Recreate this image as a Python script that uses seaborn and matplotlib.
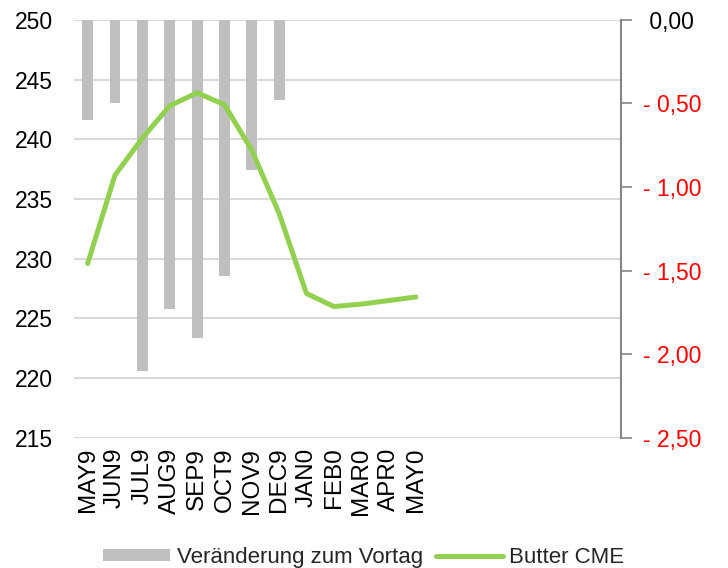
import numpy as np
import pandas as pd
import matplotlib
matplotlib.use("Agg")
import matplotlib.pyplot as plt
import seaborn as sns

# --- data -------------------------------------------------------------------
MONTHS = ["MAY9", "JUN9", "JUL9", "AUG9", "SEP9", "OCT9", "NOV9",
          "DEC9", "JAN0", "FEB0", "MAR0", "APR0", "MAY0"]
N_SLOTS = 20                      # axis keeps room for 7 empty months

CHANGE_MONTHS = MONTHS[:8]        # bars stop at DEC9
CHANGE = [-0.60, -0.50, -2.10, -1.73, -1.90, -1.53, -0.90, -0.48]

BUTTER = [229.6, 237.0, 240.1, 242.8, 243.9, 242.9, 239.1,
          233.8, 227.1, 226.0, 226.2, 226.5, 226.8]

LEFT_TICKS = [215, 220, 225, 230, 235, 240, 245, 250]
RIGHT_TICKS = [-2.5, -2.0, -1.5, -1.0, -0.5, 0.0]

BAR_LABEL = "Veränderung zum Vortag"
LINE_LABEL = "Butter CME"

# --- style -------------------------------------------------------------------
sns.set_theme(style="white")
plt.rcParams["font.family"] = ["Liberation Sans", "DejaVu Sans"]
plt.rcParams["font.size"] = 16

GRAY_BAR = "#bfbfbf"
GRID = "#d9d9d9"
GREEN = "#92d050"

fig = plt.figure(figsize=(7.28, 5.68), dpi=100)
ax = fig.add_subplot(111)          # left scale, grid, x labels
ax_bar = ax.twinx()                # right scale, bars
ax_line = ax.twinx()               # left scale again, line on top
fig.subplots_adjust(left=0.1016, right=0.853, bottom=0.229, top=0.965)

slots = MONTHS + [f"_{i}" for i in range(N_SLOTS - len(MONTHS))]

# bars (right axis)
bar_df = pd.DataFrame({"month": CHANGE_MONTHS, "change": CHANGE})
sns.barplot(data=bar_df, x="month", y="change", order=slots, color=GRAY_BAR,
            saturation=1, width=0.4, linewidth=0, ax=ax_bar)

# line (left scale)
line_df = pd.DataFrame({"pos": np.arange(len(MONTHS)), "butter": BUTTER})
sns.lineplot(data=line_df, x="pos", y="butter", sort=False, color=GREEN,
             linewidth=3.6, ax=ax_line, legend=False)
ax_line.lines[0].set_solid_capstyle("round")

# x axis
for a in (ax, ax_bar, ax_line):
    a.set_xlim(-0.5, N_SLOTS - 0.5)
    a.set_xlabel("")
ax.set_xticks(range(N_SLOTS))
ax.set_xticklabels(MONTHS + [""] * (N_SLOTS - len(MONTHS)), rotation=90)
ax.tick_params(axis="x", length=0, pad=7, labelsize=17.5, colors="black")

# left axis with grid
ax.set_ylim(LEFT_TICKS[0], LEFT_TICKS[-1])
ax.set_yticks(LEFT_TICKS)
ax.tick_params(axis="y", length=0, pad=15, labelsize=16.5, colors="black")
ax.yaxis.grid(True, color=GRID, linewidth=1.5)
ax.set_axisbelow(True)
for s in ax.spines.values():
    s.set_visible(False)

ax_line.set_ylim(LEFT_TICKS[0], LEFT_TICKS[-1])
ax_line.set_yticks([])
ax_line.set_ylabel("")
for s in ax_line.spines.values():
    s.set_visible(False)

# right axis
ax_bar.set_ylim(RIGHT_TICKS[0], RIGHT_TICKS[-1])
ax_bar.set_yticks(RIGHT_TICKS)
ax_bar.set_yticklabels(
    [f"- {abs(v):.2f}".replace(".", ",") if v < 0 else f" {v:.2f}".replace(".", ",")
     for v in RIGHT_TICKS])
for lbl, v in zip(ax_bar.get_yticklabels(), RIGHT_TICKS):
    lbl.set_color("red" if v < 0 else "black")
ax_bar.tick_params(axis="y", length=8, width=1.2, color="#868686",
                   pad=8, labelsize=16.5, direction="out")
ax_bar.set_ylabel("")
for name, s in ax_bar.spines.items():
    s.set_visible(name == "right")
ax_bar.spines["right"].set_color("#868686")
ax_bar.spines["right"].set_linewidth(1.5)

# legend
handles = [ax_bar.containers[0], ax_line.lines[0]]
fig.legend(handles, [BAR_LABEL, LINE_LABEL], loc="lower center",
           bbox_to_anchor=(0.5, -0.035), ncol=2, frameon=False, fontsize=16,
           handlelength=3.0, handleheight=0.5, handletextpad=0.3,
           columnspacing=0.6)

fig.savefig("out.png", dpi=100, facecolor="white")
